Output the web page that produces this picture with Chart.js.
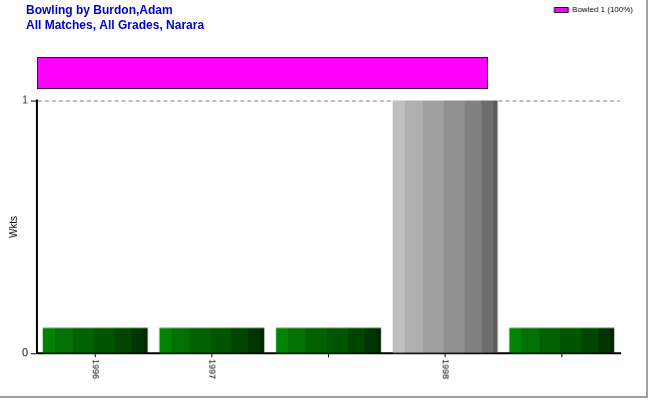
<!DOCTYPE html>
<html>
<head>
<meta charset="utf-8">
<title>Bowling by Burdon,Adam</title>
<script src="https://cdn.jsdelivr.net/npm/chart.js@4.4.0/dist/chart.umd.min.js"></script>
<style>
	body { margin: 0; background: #fff; }
	#wrap { position: relative; width: 650px; height: 400px; }
	#wkts { position: absolute; left: 0; top: 0; border-right: 2px solid #a0a0a0; border-bottom: 2px solid #a0a0a0; }
	#bowled { position: absolute; left: 0; top: 0; pointer-events: none; }
</style>
</head>
<body>
<div id="wrap">
	<canvas id="wkts" width="648" height="398"></canvas>
	<canvas id="bowled" width="648" height="89"></canvas>
</div>
<script>
	// seasons along the bottom, wickets per season
	let seasons = ["1996", "1997", "", "1998", ""];
	let wkts = [0.1, 0.1, 0.1, 1, 0.1];
	let tones = ["green", "green", "green", "grey", "green"];
	let yTicks = [0, 1];

	// how the wickets were taken (top bar)
	let dismissals = ["Bowled"];
	let dismissalCount = [1];
	let legendText = ["Bowled 1 (100%)"];
	let titleLines = ["Bowling by Burdon,Adam", "All Matches, All Grades, Narara"];

	Chart.defaults.font.family = "'Liberation Sans', Arial, sans-serif";

	let shades = {
		green: ["#038303", "#037003", "#006200", "#005500", "#004600", "#003400", "#002a00"],
		grey: ["#c0c0c0", "#b0b0b0", "#a0a0a0", "#909090", "#808080", "#6e6e6e", "#5c5c5c"]
	};
	let stops = [0, 0.113, 0.283, 0.484, 0.682, 0.849, 0.962, 1];
	let barFill = 0.9;

	function stripes(c) {
		if (c.type !== "data") return "#008000";
		let tone = shades[tones[c.dataIndex]];
		let x = c.chart.scales.x;
		if (!x || !x.width) return tone[0];
		let center = x.getPixelForValue(c.dataIndex);
		let half = x.width / seasons.length * barFill / 2;
		let g = c.chart.ctx.createLinearGradient(center - half, 0, center + half, 0);
		tone.forEach(function (col, i) {
			g.addColorStop(stops[i], col);
			g.addColorStop(stops[i + 1], col);
		});
		return g;
	}

	function blankAxis(pos, size) {
		return {
			type: "linear",
			position: pos,
			ticks: { display: false },
			grid: { display: false },
			border: { display: false },
			afterFit: function (s) {
				if (pos === "top") s.height = size;
				else s.width = size;
			}
		};
	}

	let chartWkts = new Chart(document.getElementById("wkts"), {
		type: "bar",
		data: {
			labels: seasons,
			datasets: [{
				label: "Wkts",
				data: wkts,
				backgroundColor: stripes,
				borderWidth: 0,
				categoryPercentage: barFill,
				barPercentage: 1
			}]
		},
		options: {
			responsive: false,
			animation: false,
			devicePixelRatio: 1,
			layout: { padding: { left: 0, right: 7, top: 0, bottom: 0 } },
			plugins: {
				title: { display: false },
				tooltip: { enabled: false },
				legend: {
					position: "top",
					align: "end",
					labels: {
						boxWidth: 14,
						boxHeight: 5,
						padding: 6,
						color: "#444",
						font: { size: 8 },
						generateLabels: function () {
							return legendText.map(function (t) {
								return { text: t, fillStyle: "#ff00ff", strokeStyle: "#000", lineWidth: 1, hidden: false };
							});
						}
					}
				}
			},
			scales: {
				x: {
					type: "category",
					position: "bottom",
					offset: true,
					grid: { offset: false, drawOnChartArea: false, tickLength: 4, tickColor: "#000" },
					border: { color: "#000", width: 2 },
					ticks: { minRotation: -90, maxRotation: -90, padding: 22, color: "#000", font: { size: 9 }, autoSkip: false },
					afterFit: function (s) { s.height = 43; }
				},
				xTop: blankAxis("top", 77),
				y: {
					min: 0,
					max: 1,
					afterBuildTicks: function (s) {
						s.ticks = yTicks.map(function (v) { return { value: v }; });
					},
					grid: { color: "#808080", tickLength: 6, tickColor: "#000" },
					border: { color: "#000", width: 2, dash: [4, 3] },
					ticks: {
						padding: 3,
						font: { size: 11 },
						color: function (c) { return c.tick && c.tick.value === 1 ? "#801030" : "#000"; }
					},
					title: { display: true, text: "Wkts", color: "#000", font: { size: 10 }, padding: { top: 8, bottom: 0 } },
					afterFit: function (s) { s.width = 37; }
				},
				yRight: blankAxis("right", 19)
			}
		}
	});

	let chartBowled = new Chart(document.getElementById("bowled"), {
		type: "bar",
		data: {
			labels: dismissals,
			datasets: [{
				data: dismissalCount,
				backgroundColor: "#ff00ff",
				borderColor: "#000",
				borderWidth: 1,
				borderSkipped: false,
				barPercentage: 1,
				categoryPercentage: 1
			}]
		},
		options: {
			indexAxis: "y",
			responsive: false,
			animation: false,
			devicePixelRatio: 1,
			layout: { padding: { left: 26, right: 160, top: 0, bottom: 0 } },
			plugins: {
				legend: { display: false },
				tooltip: { enabled: false },
				title: {
					display: true,
					text: titleLines,
					align: "start",
					color: "#0000cc",
					font: { size: 12, weight: "bold", lineHeight: 1.25 },
					padding: { top: 3, bottom: 24 }
				}
			},
			scales: {
				x: { display: false, min: 0, max: 1 },
				y: {
					ticks: { display: false },
					grid: { display: false },
					border: { display: false },
					afterFit: function (s) { s.width = 11; }
				}
			}
		}
	});
</script>
</body>
</html>
